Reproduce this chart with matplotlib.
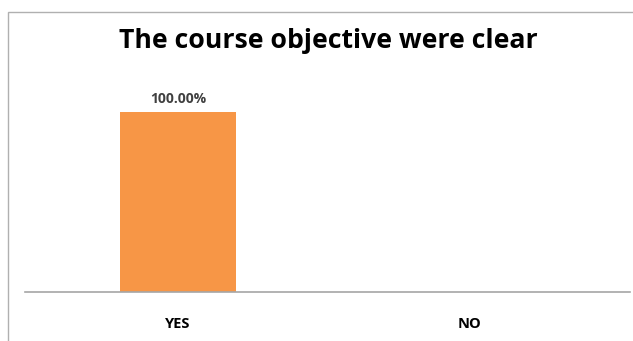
import matplotlib.pyplot as plt
from matplotlib.patches import Rectangle

categories = ['YES', 'NO']
values = [1.0, 0.0]
labels = ['100.00%', '']

fig = plt.figure(figsize=(6.33, 3.41), dpi=100)
W, H = 633, 341

# chart frame (extends past the right and bottom edges)
fig.patches.append(Rectangle((8 / W, -0.1), 1.1, 1 - 12 / H + 0.1, transform=fig.transFigure,
                             fill=False, edgecolor='#b0b0b0', linewidth=1))

ax = fig.add_axes([25 / W, 1 - 292 / H, 605 / W, 216 / H])
ax.bar(range(len(categories)), values, width=0.40, color='#F79646')
ax.set_xlim(-0.524, 1.548)
ax.set_ylim(0, 1.2)
for i, (v, l) in enumerate(zip(values, labels)):
    if l:
        ax.text(i, v + 0.035, l, ha='center', va='bottom', fontsize=10,
                fontweight='bold', color='#404040', family='Open Sans')

ax.set_xticks(range(len(categories)))
ax.set_xticklabels(categories, fontsize=10.5, fontweight='bold', family='Open Sans')
ax.tick_params(axis='x', length=0, pad=18)
ax.set_yticks([])
for s in ['top', 'right', 'left']:
    ax.spines[s].set_visible(False)
ax.spines['bottom'].set_color('#a6a6a6')
ax.spines['bottom'].set_linewidth(1.2)

fig.text(328 / W, 1 - 41 / H, 'The course objective were clear', ha='center', va='center',
         fontsize=19.2, fontweight='bold', family='Open Sans')

fig.savefig('out.png', dpi=100)
